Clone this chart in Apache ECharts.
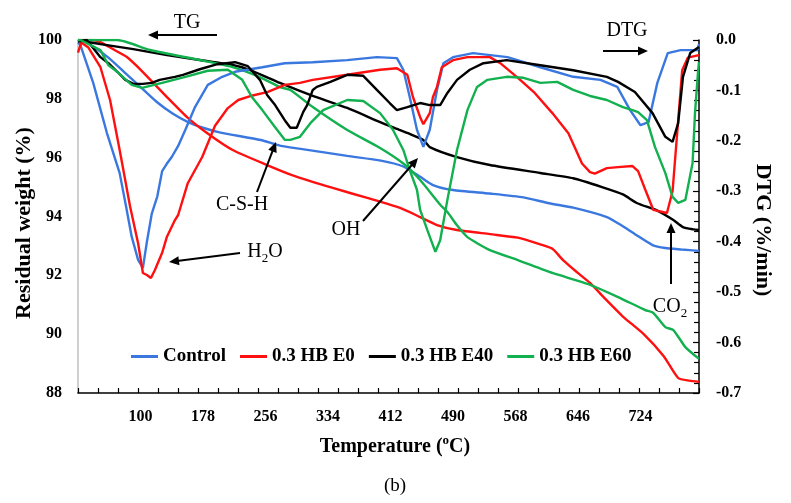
<!DOCTYPE html>
<html>
<head>
<meta charset="utf-8">
<script src="https://cdn.jsdelivr.net/npm/echarts@6/dist/echarts.min.js"></script>
<style>html,body{margin:0;padding:0;background:#fff}#c{width:791px;height:503px}</style>
</head>
<body>
<div id="c"></div>
<script>
// ---- data: [temperature (°C), value] ----
const seriesNames = ['Control', '0.3 HB E0', '0.3 HB E40', '0.3 HB E60'];
const xTickLabels = [100, 178, 256, 334, 412, 490, 568, 646, 724];

// TG, residual weight (%)
const tgControl = [[22,100],[30,99.95],[40,99.8],[60,99.4],[80,98.9],[100,98.4],[120,97.9],[140,97.5],[160,97.2],[180,97.0],[200,96.85],[250,96.6],[275,96.4],[300,96.3],[358,96.06],[400,95.9],[428,95.7],[449,95.35],[465,95.07],[490,94.9],[536,94.78],[578,94.65],[610,94.45],[640,94.3],[682,93.98],[700,93.7],[717,93.4],[739,93.03],[755,92.93],[775,92.88],[797,92.83]];
const tgE0 = [[22,100],[40,100],[50,99.93],[65,99.7],[83,99.42],[103,98.91],[133,98.06],[158,97.38],[183,96.84],[215,96.26],[258,95.75],[290,95.4],[340,94.97],[383,94.63],[424,94.29],[449,93.98],[470,93.71],[495,93.54],[536,93.4],[571,93.28],[599,93.05],[614,92.9],[628,92.5],[645,92.1],[661,91.74],[680,91.2],[702,90.6],[728,90.0],[753,89.25],[771,88.51],[785,88.42],[797,88.38]];
const tgE40 = [[22,100],[50,99.86],[91,99.69],[133,99.49],[174,99.32],[215,99.15],[237,98.98],[274,98.54],[315,98.1],[358,97.69],[399,97.21],[424,96.94],[433,96.84],[453,96.6],[461,96.36],[495,96.02],[536,95.75],[599,95.48],[640,95.3],[676,95.0],[702,94.75],[720,94.45],[745,94.2],[765,93.88],[777,93.64],[790,93.56],[797,93.54]];
const tgE60 = [[22,100],[31,100],[71,100],[112,99.66],[174,99.32],[215,99.08],[249,98.74],[274,98.4],[287,98.3],[315,97.72],[358,96.94],[399,96.33],[428,95.8],[449,95.24],[474,94.4],[483,94.15],[495,93.7],[508,93.3],[536,92.86],[571,92.52],[614,92.08],[659,91.7],[696,91.26],[730,90.82],[740,90.72],[755,90.24],[765,90.14],[780,89.56],[797,89.16]];

// DTG (%/min)
const dtgControl = [[22,-0.005],[25,-0.01],[41,-0.085],[58,-0.184],[74,-0.264],[82,-0.33],[89,-0.39],[97,-0.436],[103,-0.452],[108,-0.40],[114,-0.345],[121,-0.31],[127,-0.26],[133,-0.245],[139,-0.232],[147,-0.21],[156,-0.178],[168,-0.133],[184,-0.089],[202,-0.073],[218,-0.063],[252,-0.054],[280,-0.046],[315,-0.044],[358,-0.04],[395,-0.034],[420,-0.036],[428,-0.059],[436,-0.113],[445,-0.178],[453,-0.212],[461,-0.178],[470,-0.099],[478,-0.046],[490,-0.034],[515,-0.026],[558,-0.034],[599,-0.054],[640,-0.073],[674,-0.079],[695,-0.093],[711,-0.139],[724,-0.169],[734,-0.163],[745,-0.085],[758,-0.026],[774,-0.02],[795,-0.02],[797,-0.008]];
const dtgE0 = [[22,-0.025],[26,-0.005],[35,-0.015],[50,-0.054],[62,-0.119],[74,-0.218],[87,-0.33],[97,-0.403],[103,-0.462],[108,-0.466],[113,-0.472],[118,-0.456],[127,-0.422],[133,-0.39],[143,-0.357],[147,-0.347],[159,-0.284],[177,-0.232],[193,-0.17],[209,-0.135],[222,-0.119],[240,-0.11],[259,-0.103],[280,-0.089],[299,-0.085],[315,-0.079],[358,-0.069],[399,-0.059],[420,-0.056],[433,-0.069],[440,-0.113],[449,-0.153],[453,-0.167],[461,-0.145],[465,-0.113],[470,-0.093],[476,-0.054],[490,-0.04],[508,-0.034],[536,-0.034],[549,-0.046],[571,-0.075],[592,-0.105],[614,-0.145],[634,-0.185],[651,-0.245],[661,-0.262],[667,-0.265],[682,-0.254],[696,-0.252],[714,-0.25],[721,-0.26],[730,-0.297],[740,-0.337],[757,-0.343],[764,-0.3],[770,-0.18],[776,-0.06],[783,-0.035],[797,-0.03]];
const dtgE40 = [[22,-0.003],[33,0],[50,-0.034],[60,-0.046],[71,-0.063],[81,-0.079],[91,-0.087],[103,-0.087],[114,-0.085],[124,-0.079],[143,-0.073],[153,-0.069],[174,-0.058],[196,-0.048],[218,-0.044],[234,-0.052],[249,-0.079],[258,-0.109],[268,-0.129],[280,-0.159],[287,-0.174],[295,-0.174],[303,-0.143],[308,-0.129],[315,-0.099],[320,-0.093],[337,-0.083],[358,-0.069],[378,-0.071],[395,-0.099],[411,-0.125],[420,-0.139],[433,-0.133],[449,-0.125],[461,-0.129],[474,-0.129],[483,-0.105],[495,-0.079],[511,-0.059],[528,-0.046],[557,-0.04],[599,-0.05],[640,-0.06],[682,-0.073],[696,-0.083],[717,-0.103],[739,-0.145],[755,-0.192],[764,-0.202],[771,-0.165],[777,-0.073],[786,-0.026],[797,-0.014]];
const dtgE60 = [[22,0],[25,0],[50,-0.02],[60,-0.05],[71,-0.063],[89,-0.089],[102,-0.095],[127,-0.085],[156,-0.073],[184,-0.061],[209,-0.059],[227,-0.079],[239,-0.113],[252,-0.139],[268,-0.173],[280,-0.198],[287,-0.198],[299,-0.192],[312,-0.165],[328,-0.139],[358,-0.119],[378,-0.121],[399,-0.145],[415,-0.178],[428,-0.218],[436,-0.258],[445,-0.297],[449,-0.337],[458,-0.377],[468,-0.42],[474,-0.397],[483,-0.317],[495,-0.218],[508,-0.139],[520,-0.093],[533,-0.079],[557,-0.073],[578,-0.075],[599,-0.085],[620,-0.083],[640,-0.099],[661,-0.111],[682,-0.119],[702,-0.133],[714,-0.139],[721,-0.143],[732,-0.159],[742,-0.212],[755,-0.264],[764,-0.311],[771,-0.323],[780,-0.317],[789,-0.244],[792,-0.145],[796,-0.059],[797,-0.044]];

// ---- chart ----
const colors = ['#3a78e0', '#ff1010', '#000000', '#12b04e'];
const FONT = '"Liberation Serif", "Times New Roman", serif';
const chart = echarts.init(document.getElementById('c'), null, {renderer: 'canvas'});

const tgSets = [tgControl, tgE0, tgE40, tgE60];
const dtgSets = [dtgControl, dtgE0, dtgE40, dtgE60];
const series = [];
tgSets.forEach((d, i) => series.push({
  name: seriesNames[i], type: 'line', data: d, xAxisIndex: 0, yAxisIndex: 0,
  smooth: 0.2,
  showSymbol: false, symbol: 'none', lineStyle: {width: 2.4, color: colors[i]}, itemStyle: {color: colors[i]}, z: 3
}));
dtgSets.forEach((d, i) => series.push({
  name: seriesNames[i], type: 'line', data: d, xAxisIndex: 0, yAxisIndex: 1,
  showSymbol: false, symbol: 'none', lineStyle: {width: 2.4, color: colors[i]}, itemStyle: {color: colors[i]}, z: 3
}));

function arrow(x1, y1, x2, y2) {
  const a = Math.atan2(y2 - y1, x2 - x1), L = 10, W = 4.5;
  const c = Math.cos(a), s = Math.sin(a);
  return [
    {type: 'line', shape: {x1: x1, y1: y1, x2: x2 - c * L * 0.8, y2: y2 - s * L * 0.8}, style: {stroke: '#000', lineWidth: 2}, z: 10},
    {type: 'polygon', shape: {points: [[x2, y2], [x2 - L * c + W * s, y2 - L * s - W * c], [x2 - L * c - W * s, y2 - L * s + W * c]]}, style: {fill: '#000'}, z: 10}
  ];
}
function label(x, y, text, size, weight, rot) {
  const small = Math.round(size * 0.65);
  return {type: 'text', x: x, y: y, rotation: rot || 0, z: 10,
    style: {text: text, font: (weight || 'normal') + ' ' + size + 'px ' + FONT, fill: '#000', textAlign: 'center', textVerticalAlign: 'middle',
      rich: {
        n: {fontSize: size, fontFamily: FONT, fontWeight: weight || 'normal', lineHeight: size + 6, verticalAlign: 'middle'},
        sub: {fontSize: small, fontFamily: FONT, fontWeight: weight || 'normal', lineHeight: small, verticalAlign: 'bottom'},
        sup: {fontSize: small, fontFamily: FONT, fontWeight: weight || 'normal', lineHeight: small + 2, verticalAlign: 'top'}
      }}};
}

const graphics = [
  label(187, 23, 'TG', 20),
  ...arrow(217, 35, 148, 35),
  label(627, 31, 'DTG', 20),
  ...arrow(603, 51, 648, 51),
  label(242, 205, 'C-S-H', 20),
  ...arrow(257, 192, 276, 142),
  label(346, 230, 'OH', 20),
  ...arrow(363, 221, 418, 158),
  label(265, 252, '{n|H}{sub|2}{n|O}', 20),
  ...arrow(240, 253, 169, 262),
  label(670, 307, '{n|CO}{sub|2}', 20),
  ...arrow(671, 284, 671, 223),
  label(24, 223, 'Residual weight (%)', 22, 'bold', Math.PI / 2),
  label(763, 230, 'DTG (%/min)', 22, 'bold', -Math.PI / 2),
  label(395, 447, '{n|Temperature (}{sup|o}{n|C)}', 20, 'bold'),
  label(395, 486, '(b)', 19)
];

chart.setOption({
  animation: false,
  backgroundColor: '#fff',
  color: colors,
  grid: {left: 78, right: 92, top: 40, bottom: 110, containLabel: false},
  legend: {
    data: seriesNames, left: 131, top: 347, icon: 'rect', itemWidth: 27, itemHeight: 3, itemGap: 14, padding: 0,
    textStyle: {fontFamily: FONT, fontSize: 19, fontWeight: 'bold', color: '#000'}
  },
  xAxis: [
    {type: 'value', min: 22, max: 797, interval: 78, position: 'bottom',
     axisLine: {onZero: false, lineStyle: {color: '#000', width: 1.5}},
     axisTick: {show: false}, splitLine: {show: false},
     axisLabel: {margin: 16, color: '#000', fontFamily: FONT, fontSize: 16, fontWeight: 'bold',
       formatter: v => (xTickLabels.indexOf(Math.round(v)) >= 0 ? String(Math.round(v)) : '')}},
    {type: 'value', min: 22, max: 797, interval: 25, position: 'bottom',
     axisLine: {show: false, onZero: false}, axisLabel: {show: false}, splitLine: {show: false},
     axisTick: {show: true, inside: true, length: 5, lineStyle: {color: '#000', width: 1.2}}}
  ],
  yAxis: [
    {type: 'value', min: 88, max: 100, interval: 2, position: 'left',
     axisLine: {show: true, onZero: false, lineStyle: {color: '#bfbfbf', width: 1.5}},
     axisTick: {show: false}, splitLine: {show: false},
     axisLabel: {margin: 16, color: '#000', fontFamily: FONT, fontSize: 16, fontWeight: 'bold'}},
    {type: 'value', min: -0.7, max: 0, interval: 0.1, position: 'right',
     axisLine: {show: true, onZero: false, lineStyle: {color: '#000', width: 1.5}},
     axisTick: {show: true, inside: true, length: 6, lineStyle: {color: '#000', width: 1.2}},
     minorTick: {show: true, splitNumber: 5, length: 5, lineStyle: {color: '#000', width: 1.2}},
     splitLine: {show: false},
     axisLabel: {margin: 17, color: '#000', fontFamily: FONT, fontSize: 16, fontWeight: 'bold',
       formatter: v => (Math.abs(v) < 1e-9 ? '0.0' : v.toFixed(1))}}
  ],
  series: series,
  graphic: graphics
});
</script>
</body>
</html>
